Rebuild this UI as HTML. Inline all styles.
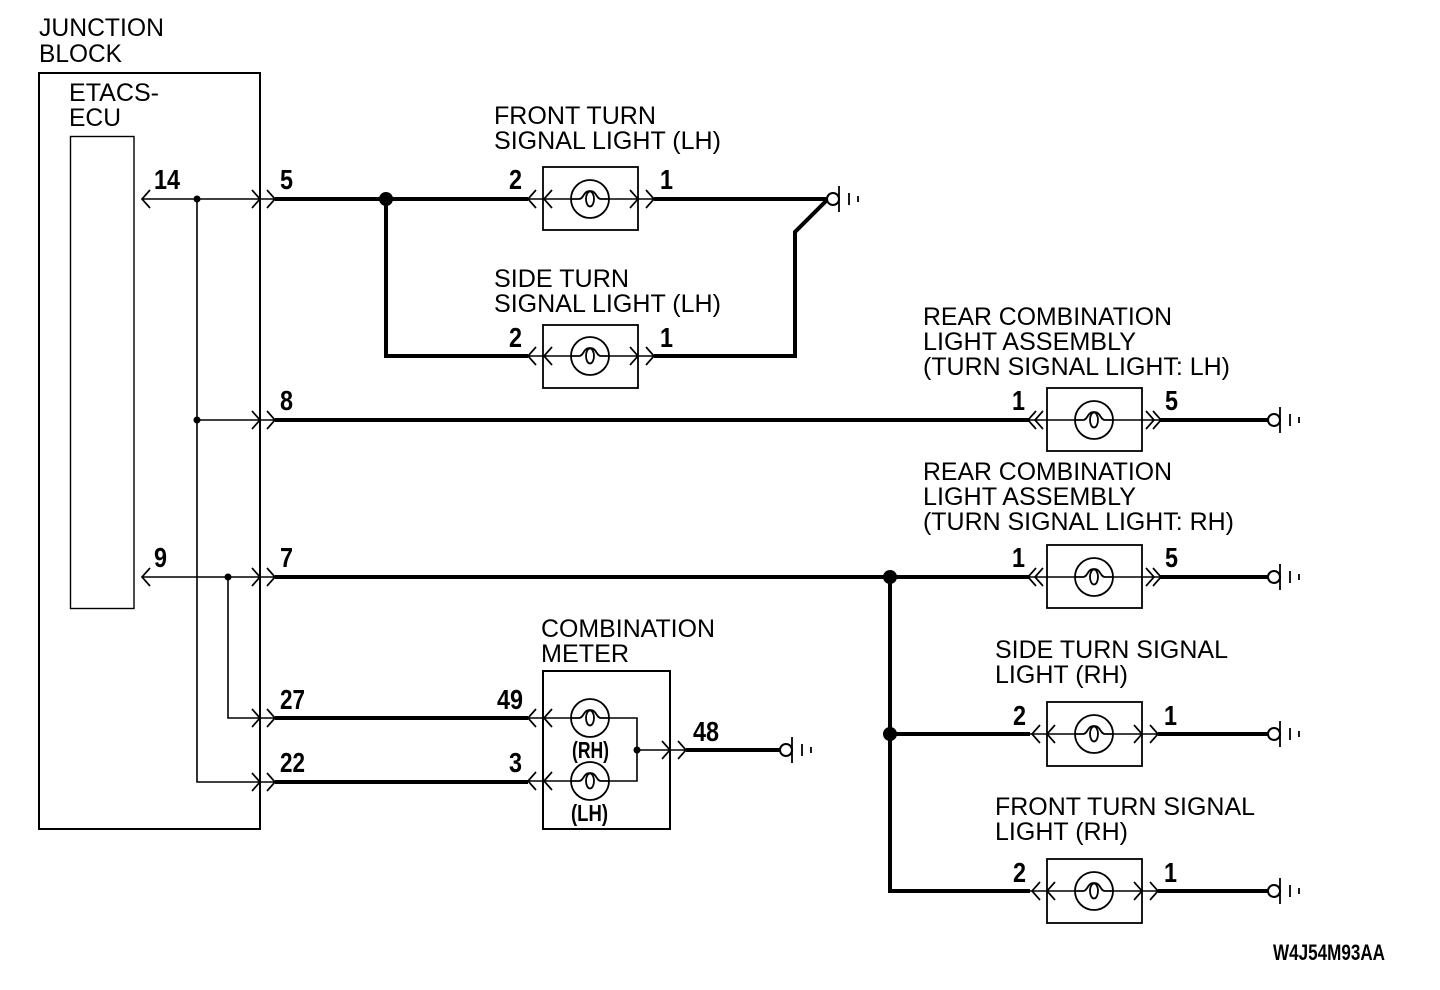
<!DOCTYPE html>
<html><head><meta charset="utf-8"><title>Turn signal circuit</title>
<style>
html,body{margin:0;padding:0;background:#fff}
svg{display:block}
text{font-family:"Liberation Sans",sans-serif;fill:#000}
.t{font-size:25px}
.n{font-size:28px;font-weight:bold}
.s{font-size:23px;font-weight:bold}
</style></head><body>
<svg width="1440" height="990" viewBox="0 0 1440 990" xmlns="http://www.w3.org/2000/svg">
<defs>
<g id="bulb" fill="none" stroke="#000" stroke-width="1.8">
<circle cx="0" cy="0" r="19"/>
<path d="M-19 0H-11 C-6 0 -7 -8 0 -8 C7 -8 6 0 11 0H19"/>
<ellipse cx="0" cy="0" rx="4" ry="7.5"/>
</g>
<g id="gnd" fill="none" stroke="#000">
<circle cx="0" cy="0" r="6" stroke-width="2" fill="#fff"/>
<path d="M6 -13V13" stroke-width="1.8"/>
<path d="M16 -6V6" stroke-width="1.8"/>
<path d="M25 -3V3" stroke-width="1.8"/>
</g>
<path id="al" d="M8 -9L0 0L8 9" fill="none" stroke="#000" stroke-width="1.7"/>
<path id="ar" d="M-8 -9L0 0L-8 9" fill="none" stroke="#000" stroke-width="1.7"/>
</defs>

<!-- boxes -->
<g fill="none" stroke="#000">
<rect x="39" y="73" width="221" height="756" stroke-width="2"/>
<rect x="70.5" y="136.5" width="63.5" height="472" stroke-width="1.4"/>
<rect x="543" y="167" width="95" height="63" stroke-width="1.8"/>
<rect x="543" y="325" width="95" height="63" stroke-width="1.8"/>
<rect x="1047" y="388" width="95" height="63" stroke-width="1.8"/>
<rect x="1047" y="545" width="95" height="63" stroke-width="1.8"/>
<rect x="1047" y="702" width="95" height="64" stroke-width="1.8"/>
<rect x="1047" y="859" width="95" height="64" stroke-width="1.8"/>
<rect x="543" y="671" width="127" height="158" stroke-width="2"/>
</g>

<!-- thin wires -->
<g fill="none" stroke="#000" stroke-width="1.6">
<path d="M142 199H275M197 199V782H275M197 420H275M142 577H275M228 577V718H275"/>
<path d="M528 199H654M528 356H654"/>
<path d="M1030 420H1160M1030 577H1160M1030 734H1158M1030 891H1158"/>
<path d="M528 718H571M609 718H637V781H609M528 781H571M637 750H686"/>
</g>

<!-- thick wires -->
<g fill="none" stroke="#000" stroke-width="4">
<path d="M275 199H528M386 199V356H528"/>
<path d="M654 199H828L795 232V356H654"/>
<path d="M275 420H1030"/>
<path d="M275 577H1030"/>
<path d="M890 577V891H1030M890 734H1030"/>
<path d="M1160 420H1268M1160 577H1268M1158 734H1268M1158 891H1268"/>
<path d="M275 718H528M275 782H528M686 750H780"/>
</g>

<!-- junction dots -->
<g fill="#000">
<circle cx="197" cy="199" r="3.5"/><circle cx="197" cy="420" r="3.5"/>
<circle cx="228" cy="577" r="3.5"/><circle cx="637" cy="750" r="3.5"/>
<circle cx="386" cy="199" r="7"/><circle cx="890" cy="577" r="7"/><circle cx="890" cy="734" r="7"/>
</g>

<!-- bulbs -->
<g fill="#fff">
<circle cx="590" cy="199" r="19"/><circle cx="590" cy="356" r="19"/>
<circle cx="1094" cy="420" r="19"/><circle cx="1094" cy="577" r="19"/>
<circle cx="1094" cy="734" r="19"/><circle cx="1094" cy="891" r="19"/>
<circle cx="590" cy="718" r="19"/><circle cx="590" cy="781" r="19"/>
</g>
<use href="#bulb" x="590" y="199"/><use href="#bulb" x="590" y="356"/>
<use href="#bulb" x="1094" y="420"/><use href="#bulb" x="1094" y="577"/>
<use href="#bulb" x="1094" y="734"/><use href="#bulb" x="1094" y="891"/>
<use href="#bulb" x="590" y="718"/><use href="#bulb" x="590" y="781"/>

<!-- grounds -->
<use href="#gnd" x="833" y="199"/>
<use href="#gnd" x="1274" y="420"/><use href="#gnd" x="1274" y="577"/>
<use href="#gnd" x="1274" y="734"/><use href="#gnd" x="1274" y="891"/>
<use href="#gnd" x="786" y="750"/>

<!-- arrowheads -->
<use href="#al" x="142" y="199"/><use href="#al" x="142" y="577"/>
<use href="#ar" x="260" y="199"/><use href="#ar" x="275" y="199"/>
<use href="#ar" x="260" y="420"/><use href="#ar" x="275" y="420"/>
<use href="#ar" x="260" y="577"/><use href="#ar" x="275" y="577"/>
<use href="#ar" x="260" y="718"/><use href="#ar" x="275" y="718"/>
<use href="#ar" x="260" y="782"/><use href="#ar" x="275" y="782"/>
<use href="#al" x="528" y="199"/><use href="#al" x="544" y="199"/>
<use href="#ar" x="638" y="199"/><use href="#ar" x="654" y="199"/>
<use href="#al" x="528" y="356"/><use href="#al" x="544" y="356"/>
<use href="#ar" x="638" y="356"/><use href="#ar" x="654" y="356"/>
<use href="#al" x="528" y="718"/><use href="#al" x="544" y="718"/>
<use href="#al" x="528" y="781"/><use href="#al" x="544" y="781"/>
<use href="#ar" x="670" y="750"/><use href="#ar" x="686" y="750"/>
<use href="#al" x="1028" y="420"/><use href="#al" x="1035" y="420"/>
<use href="#ar" x="1154" y="420"/><use href="#ar" x="1161" y="420"/>
<use href="#al" x="1028" y="577"/><use href="#al" x="1035" y="577"/>
<use href="#ar" x="1154" y="577"/><use href="#ar" x="1161" y="577"/>
<use href="#al" x="1032" y="734"/><use href="#al" x="1047" y="734"/>
<use href="#ar" x="1142" y="734"/><use href="#ar" x="1158" y="734"/>
<use href="#al" x="1032" y="891"/><use href="#al" x="1047" y="891"/>
<use href="#ar" x="1142" y="891"/><use href="#ar" x="1158" y="891"/>

<!-- labels -->
<g class="t" style="font-size:25px">
<text x="39" y="36" textLength="125" lengthAdjust="spacingAndGlyphs">JUNCTION</text>
<text x="39" y="62" textLength="83" lengthAdjust="spacingAndGlyphs">BLOCK</text>
<text x="69" y="101" textLength="90" lengthAdjust="spacingAndGlyphs">ETACS-</text>
<text x="69" y="126" textLength="52" lengthAdjust="spacingAndGlyphs">ECU</text>
<text x="494" y="124" textLength="162" lengthAdjust="spacingAndGlyphs">FRONT TURN</text>
<text x="494" y="149" textLength="227" lengthAdjust="spacingAndGlyphs">SIGNAL LIGHT (LH)</text>
<text x="494" y="287" textLength="135" lengthAdjust="spacingAndGlyphs">SIDE TURN</text>
<text x="494" y="312" textLength="227" lengthAdjust="spacingAndGlyphs">SIGNAL LIGHT (LH)</text>
<text x="923" y="325" textLength="249" lengthAdjust="spacingAndGlyphs">REAR COMBINATION</text>
<text x="923" y="350" textLength="213" lengthAdjust="spacingAndGlyphs">LIGHT ASSEMBLY</text>
<text x="923" y="375" textLength="307" lengthAdjust="spacingAndGlyphs">(TURN SIGNAL LIGHT: LH)</text>
<text x="923" y="480" textLength="249" lengthAdjust="spacingAndGlyphs">REAR COMBINATION</text>
<text x="923" y="505" textLength="213" lengthAdjust="spacingAndGlyphs">LIGHT ASSEMBLY</text>
<text x="923" y="530" textLength="311" lengthAdjust="spacingAndGlyphs">(TURN SIGNAL LIGHT: RH)</text>
<text x="541" y="637" textLength="174" lengthAdjust="spacingAndGlyphs">COMBINATION</text>
<text x="541" y="662" textLength="88" lengthAdjust="spacingAndGlyphs">METER</text>
<text x="995" y="658" textLength="233" lengthAdjust="spacingAndGlyphs">SIDE TURN SIGNAL</text>
<text x="995" y="683" textLength="133" lengthAdjust="spacingAndGlyphs">LIGHT (RH)</text>
<text x="995" y="815" textLength="260" lengthAdjust="spacingAndGlyphs">FRONT TURN SIGNAL</text>
<text x="995" y="840" textLength="133" lengthAdjust="spacingAndGlyphs">LIGHT (RH)</text>
</g>

<!-- pin numbers -->
<g class="n">
<text x="154" y="189" textLength="26" lengthAdjust="spacingAndGlyphs">14</text>
<text x="280" y="189" textLength="13" lengthAdjust="spacingAndGlyphs">5</text>
<text x="509" y="189" textLength="13" lengthAdjust="spacingAndGlyphs">2</text>
<text x="660" y="189" textLength="13" lengthAdjust="spacingAndGlyphs">1</text>
<text x="509" y="347" textLength="13" lengthAdjust="spacingAndGlyphs">2</text>
<text x="660" y="347" textLength="13" lengthAdjust="spacingAndGlyphs">1</text>
<text x="280" y="410" textLength="13" lengthAdjust="spacingAndGlyphs">8</text>
<text x="1012" y="410" textLength="13" lengthAdjust="spacingAndGlyphs">1</text>
<text x="1165" y="410" textLength="13" lengthAdjust="spacingAndGlyphs">5</text>
<text x="154" y="567" textLength="13" lengthAdjust="spacingAndGlyphs">9</text>
<text x="280" y="567" textLength="13" lengthAdjust="spacingAndGlyphs">7</text>
<text x="1012" y="567" textLength="13" lengthAdjust="spacingAndGlyphs">1</text>
<text x="1165" y="567" textLength="13" lengthAdjust="spacingAndGlyphs">5</text>
<text x="280" y="709" textLength="25" lengthAdjust="spacingAndGlyphs">27</text>
<text x="497" y="709" textLength="26" lengthAdjust="spacingAndGlyphs">49</text>
<text x="280" y="772" textLength="25" lengthAdjust="spacingAndGlyphs">22</text>
<text x="509" y="772" textLength="13" lengthAdjust="spacingAndGlyphs">3</text>
<text x="693" y="741" textLength="26" lengthAdjust="spacingAndGlyphs">48</text>
<text x="1013" y="725" textLength="13" lengthAdjust="spacingAndGlyphs">2</text>
<text x="1164" y="725" textLength="13" lengthAdjust="spacingAndGlyphs">1</text>
<text x="1013" y="882" textLength="13" lengthAdjust="spacingAndGlyphs">2</text>
<text x="1164" y="882" textLength="13" lengthAdjust="spacingAndGlyphs">1</text>
</g>

<g class="s">
<text x="572" y="758" textLength="37" lengthAdjust="spacingAndGlyphs">(RH)</text>
<text x="571" y="821" textLength="37" lengthAdjust="spacingAndGlyphs">(LH)</text>
<text x="1273" y="960" textLength="112" lengthAdjust="spacingAndGlyphs" style="font-size:22px">W4J54M93AA</text>
</g>
</svg>
</body></html>
